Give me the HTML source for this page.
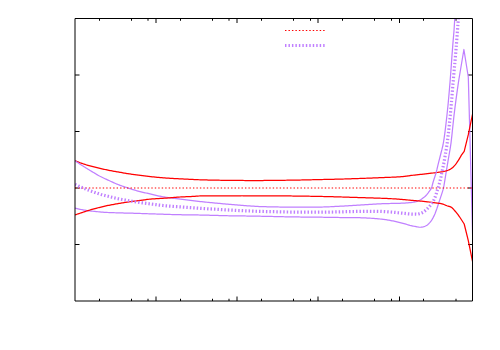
<!DOCTYPE html>
<html><head><meta charset="utf-8"><title>plot</title>
<style>html,body{margin:0;padding:0;background:#fff;font-family:"Liberation Sans",sans-serif}body{width:500px;height:350px;overflow:hidden;position:relative}</style></head>
<body>
<svg width="500" height="350" viewBox="0 0 500 350" style="position:absolute;left:0;top:0">
<rect width="500" height="350" fill="#fff"/>
<path d="M99.5,301.0V298.75M99.5,18.5V20.75M131.5,301.0V298.75M131.5,18.5V20.75M148.0,301.0V298.75M148.0,18.5V20.75M180.5,301.0V298.75M180.5,18.5V20.75M212.5,301.0V298.75M212.5,18.5V20.75M229.0,301.0V298.75M229.0,18.5V20.75M261.5,301.0V298.75M261.5,18.5V20.75M293.5,301.0V298.75M293.5,18.5V20.75M310.5,301.0V298.75M310.5,18.5V20.75M342.5,301.0V298.75M342.5,18.5V20.75M374.5,301.0V298.75M374.5,18.5V20.75M391.5,301.0V298.75M391.5,18.5V20.75M423.5,301.0V298.75M423.5,18.5V20.75M456.0,301.0V298.75M456.0,18.5V20.75M156.0,301.0V296.5M156.0,18.5V23.0M237.0,301.0V296.5M237.0,18.5V23.0M318.0,301.0V296.5M318.0,18.5V23.0M399.5,301.0V296.5M399.5,18.5V23.0M75.0,75.0H79.5M472.5,75.0H468.0M75.0,131.5H79.5M472.5,131.5H468.0M75.0,188.0H79.5M472.5,188.0H468.0M75.0,244.5H79.5M472.5,244.5H468.0" stroke="#000" stroke-width="1" fill="none"/>
<clipPath id="c"><rect x="75.0" y="18.5" width="397.5" height="282.5"/></clipPath>
<g clip-path="url(#c)" fill="none" stroke-linejoin="round">
<polyline points="75.00,208.00 76.00,208.28 77.00,208.55 78.00,208.81 79.00,209.06 80.00,209.29 81.00,209.51 82.00,209.71 83.00,209.89 84.00,210.06 85.00,210.22 86.00,210.37 87.00,210.51 88.00,210.65 89.00,210.77 90.00,210.90 91.00,211.02 92.00,211.14 93.00,211.25 94.00,211.35 95.00,211.45 96.00,211.55 97.00,211.65 98.00,211.75 99.00,211.85 100.00,211.94 101.00,212.04 102.00,212.13 103.00,212.22 104.00,212.29 105.00,212.35 106.00,212.40 107.00,212.45 108.00,212.50 109.00,212.54 110.00,212.58 111.00,212.62 112.00,212.65 113.00,212.68 114.00,212.72 115.00,212.75 116.00,212.78 117.00,212.81 118.00,212.84 119.00,212.87 120.00,212.90 121.00,212.93 122.00,212.96 123.00,212.99 124.00,213.01 125.00,213.04 126.00,213.06 127.00,213.09 128.00,213.11 129.00,213.14 130.00,213.16 131.00,213.19 132.00,213.22 133.00,213.24 134.00,213.27 135.00,213.30 136.00,213.33 137.00,213.36 138.00,213.40 139.00,213.43 140.00,213.46 141.00,213.50 142.00,213.53 143.00,213.57 144.00,213.61 145.00,213.64 146.00,213.68 147.00,213.71 148.00,213.75 149.00,213.78 150.00,213.81 151.00,213.85 152.00,213.88 153.00,213.91 154.00,213.94 155.00,213.97 156.00,214.00 157.00,214.04 158.00,214.07 159.00,214.10 160.00,214.13 161.00,214.16 162.00,214.19 163.00,214.23 164.00,214.26 165.00,214.29 166.00,214.33 167.00,214.36 168.00,214.40 169.00,214.43 170.00,214.46 171.00,214.50 172.00,214.53 173.00,214.56 174.00,214.58 175.00,214.61 176.00,214.63 177.00,214.65 178.00,214.68 179.00,214.70 180.00,214.72 181.00,214.74 182.00,214.76 183.00,214.78 184.00,214.80 185.00,214.81 186.00,214.83 187.00,214.85 188.00,214.86 189.00,214.87 190.00,214.89 191.00,214.90 192.00,214.91 193.00,214.92 194.00,214.93 195.00,214.94 196.00,214.96 197.00,214.97 198.00,214.98 199.00,215.00 200.00,215.02 201.00,215.04 202.00,215.06 203.00,215.08 204.00,215.11 205.00,215.13 206.00,215.16 207.00,215.19 208.00,215.22 209.00,215.24 210.00,215.27 211.00,215.30 212.00,215.33 213.00,215.36 214.00,215.38 215.00,215.41 216.00,215.43 217.00,215.46 218.00,215.49 219.00,215.52 220.00,215.55 221.00,215.57 222.00,215.60 223.00,215.63 224.00,215.66 225.00,215.68 226.00,215.71 227.00,215.73 228.00,215.75 229.00,215.77 230.00,215.79 231.00,215.81 232.00,215.83 233.00,215.84 234.00,215.85 235.00,215.87 236.00,215.88 237.00,215.89 238.00,215.90 239.00,215.91 240.00,215.92 241.00,215.93 242.00,215.95 243.00,215.96 244.00,215.97 245.00,215.98 246.00,216.00 247.00,216.01 248.00,216.03 249.00,216.04 250.00,216.06 251.00,216.07 252.00,216.09 253.00,216.11 254.00,216.12 255.00,216.14 256.00,216.16 257.00,216.18 258.00,216.20 259.00,216.21 260.00,216.23 261.00,216.25 262.00,216.27 263.00,216.29 264.00,216.31 265.00,216.33 266.00,216.35 267.00,216.37 268.00,216.39 269.00,216.41 270.00,216.44 271.00,216.46 272.00,216.48 273.00,216.50 274.00,216.53 275.00,216.55 276.00,216.57 277.00,216.60 278.00,216.62 279.00,216.64 280.00,216.66 281.00,216.69 282.00,216.71 283.00,216.73 284.00,216.75 285.00,216.77 286.00,216.79 287.00,216.81 288.00,216.83 289.00,216.85 290.00,216.86 291.00,216.88 292.00,216.89 293.00,216.91 294.00,216.92 295.00,216.94 296.00,216.95 297.00,216.96 298.00,216.97 299.00,216.99 300.00,217.00 301.00,217.01 302.00,217.02 303.00,217.03 304.00,217.04 305.00,217.05 306.00,217.06 307.00,217.07 308.00,217.08 309.00,217.09 310.00,217.10 311.00,217.11 312.00,217.12 313.00,217.13 314.00,217.14 315.00,217.15 316.00,217.17 317.00,217.18 318.00,217.19 319.00,217.20 320.00,217.21 321.00,217.22 322.00,217.24 323.00,217.25 324.00,217.26 325.00,217.28 326.00,217.30 327.00,217.31 328.00,217.33 329.00,217.35 330.00,217.37 331.00,217.39 332.00,217.40 333.00,217.42 334.00,217.44 335.00,217.45 336.00,217.47 337.00,217.48 338.00,217.49 339.00,217.50 340.00,217.51 341.00,217.52 342.00,217.52 343.00,217.53 344.00,217.53 345.00,217.54 346.00,217.54 347.00,217.55 348.00,217.55 349.00,217.56 350.00,217.56 351.00,217.57 352.00,217.58 353.00,217.59 354.00,217.60 355.00,217.61 356.00,217.62 357.00,217.64 358.00,217.67 359.00,217.70 360.00,217.73 361.00,217.77 362.00,217.80 363.00,217.85 364.00,217.89 365.00,217.94 366.00,217.98 367.00,218.03 368.00,218.08 369.00,218.14 370.00,218.19 371.00,218.25 372.00,218.31 373.00,218.38 374.00,218.45 375.00,218.54 376.00,218.62 377.00,218.71 378.00,218.81 379.00,218.90 380.00,219.00 381.00,219.10 382.00,219.22 383.00,219.34 384.00,219.47 385.00,219.60 386.00,219.74 387.00,219.90 388.00,220.06 389.00,220.22 390.00,220.40 391.00,220.58 392.00,220.78 393.00,220.98 394.00,221.18 395.00,221.40 396.00,221.62 397.00,221.86 398.00,222.10 399.00,222.35 400.00,222.60 401.00,222.85 402.00,223.11 403.00,223.37 404.00,223.63 405.00,223.90 406.00,224.19 407.00,224.49 408.00,224.79 409.00,225.08 410.00,225.35 411.00,225.59 412.00,225.82 413.00,226.04 414.00,226.25 415.00,226.45 416.00,226.63 417.00,226.81 418.00,227.00 419.00,227.16 420.00,227.25 421.00,227.22 422.00,227.10 423.00,226.95 424.00,226.67 425.00,226.27 426.00,225.77 427.00,225.19 428.00,224.42 429.00,223.45 430.00,222.35 431.00,221.10 432.00,219.58 433.00,217.84 434.00,215.90 435.00,213.66 436.00,211.05 437.00,208.26 438.00,205.21 439.00,202.10 440.00,199.13 441.00,196.15 442.00,193.08 443.00,189.93 444.00,185.44 445.00,179.38 446.00,173.05 447.00,167.06 448.00,161.22 449.00,155.27 450.00,149.62 451.00,143.08 452.00,134.40 453.00,124.77 454.00,115.51 455.00,107.42 456.00,99.70 457.00,92.32 458.00,85.31 458.80,80.00 463.90,49.50 468.30,77.00 472.60,235.00" stroke="#c080ff" stroke-width="1.25"/>
<polyline points="75.00,160.70 76.00,161.12 77.00,161.53 78.00,161.94 79.00,162.33 80.00,162.71 81.00,163.07 82.00,163.43 83.00,163.77 84.00,164.10 85.00,164.42 86.00,164.73 87.00,165.03 88.00,165.33 89.00,165.62 90.00,165.90 91.00,166.17 92.00,166.44 93.00,166.70 94.00,166.95 95.00,167.20 96.00,167.44 97.00,167.68 98.00,167.92 99.00,168.15 100.00,168.38 101.00,168.61 102.00,168.84 103.00,169.06 104.00,169.28 105.00,169.50 106.00,169.71 107.00,169.92 108.00,170.12 109.00,170.33 110.00,170.52 111.00,170.72 112.00,170.91 113.00,171.09 114.00,171.27 115.00,171.45 116.00,171.62 117.00,171.79 118.00,171.95 119.00,172.13 120.00,172.30 121.00,172.48 122.00,172.66 123.00,172.85 124.00,173.03 125.00,173.20 126.00,173.36 127.00,173.52 128.00,173.68 129.00,173.84 130.00,173.99 131.00,174.13 132.00,174.28 133.00,174.42 134.00,174.56 135.00,174.70 136.00,174.84 137.00,174.97 138.00,175.10 139.00,175.23 140.00,175.36 141.00,175.49 142.00,175.61 143.00,175.73 144.00,175.86 145.00,175.98 146.00,176.09 147.00,176.21 148.00,176.32 149.00,176.43 150.00,176.54 151.00,176.65 152.00,176.76 153.00,176.87 154.00,176.98 155.00,177.08 156.00,177.19 157.00,177.29 158.00,177.38 159.00,177.48 160.00,177.57 161.00,177.65 162.00,177.73 163.00,177.81 164.00,177.88 165.00,177.96 166.00,178.02 167.00,178.09 168.00,178.15 169.00,178.22 170.00,178.28 171.00,178.34 172.00,178.39 173.00,178.45 174.00,178.51 175.00,178.57 176.00,178.62 177.00,178.68 178.00,178.73 179.00,178.78 180.00,178.84 181.00,178.89 182.00,178.94 183.00,178.99 184.00,179.04 185.00,179.09 186.00,179.14 187.00,179.19 188.00,179.23 189.00,179.29 190.00,179.34 191.00,179.39 192.00,179.44 193.00,179.49 194.00,179.54 195.00,179.59 196.00,179.63 197.00,179.68 198.00,179.71 199.00,179.75 200.00,179.78 201.00,179.81 202.00,179.84 203.00,179.87 204.00,179.90 205.00,179.93 206.00,179.96 207.00,179.98 208.00,180.01 209.00,180.03 210.00,180.05 211.00,180.07 212.00,180.10 213.00,180.12 214.00,180.14 215.00,180.16 216.00,180.18 217.00,180.19 218.00,180.21 219.00,180.23 220.00,180.25 221.00,180.27 222.00,180.29 223.00,180.30 224.00,180.32 225.00,180.33 226.00,180.35 227.00,180.36 228.00,180.37 229.00,180.39 230.00,180.40 231.00,180.41 232.00,180.41 233.00,180.42 234.00,180.43 235.00,180.44 236.00,180.45 237.00,180.46 238.00,180.47 239.00,180.47 240.00,180.48 241.00,180.49 242.00,180.49 243.00,180.49 244.00,180.50 245.00,180.50 246.00,180.50 247.00,180.50 248.00,180.50 249.00,180.50 250.00,180.50 251.00,180.50 252.00,180.50 253.00,180.50 254.00,180.50 255.00,180.50 256.00,180.50 257.00,180.50 258.00,180.50 259.00,180.50 260.00,180.50 261.00,180.50 262.00,180.50 263.00,180.50 264.00,180.49 265.00,180.49 266.00,180.49 267.00,180.48 268.00,180.47 269.00,180.47 270.00,180.46 271.00,180.45 272.00,180.44 273.00,180.43 274.00,180.42 275.00,180.40 276.00,180.39 277.00,180.38 278.00,180.37 279.00,180.35 280.00,180.34 281.00,180.32 282.00,180.31 283.00,180.29 284.00,180.28 285.00,180.26 286.00,180.25 287.00,180.23 288.00,180.22 289.00,180.20 290.00,180.19 291.00,180.17 292.00,180.16 293.00,180.14 294.00,180.13 295.00,180.11 296.00,180.09 297.00,180.07 298.00,180.06 299.00,180.04 300.00,180.02 301.00,180.00 302.00,179.98 303.00,179.96 304.00,179.93 305.00,179.91 306.00,179.89 307.00,179.87 308.00,179.85 309.00,179.82 310.00,179.80 311.00,179.78 312.00,179.75 313.00,179.73 314.00,179.71 315.00,179.68 316.00,179.66 317.00,179.64 318.00,179.61 319.00,179.59 320.00,179.57 321.00,179.54 322.00,179.52 323.00,179.50 324.00,179.48 325.00,179.46 326.00,179.44 327.00,179.41 328.00,179.39 329.00,179.37 330.00,179.35 331.00,179.33 332.00,179.31 333.00,179.29 334.00,179.26 335.00,179.24 336.00,179.22 337.00,179.19 338.00,179.17 339.00,179.14 340.00,179.11 341.00,179.09 342.00,179.06 343.00,179.03 344.00,179.00 345.00,178.96 346.00,178.93 347.00,178.90 348.00,178.87 349.00,178.83 350.00,178.80 351.00,178.76 352.00,178.73 353.00,178.70 354.00,178.66 355.00,178.63 356.00,178.60 357.00,178.56 358.00,178.53 359.00,178.50 360.00,178.46 361.00,178.43 362.00,178.39 363.00,178.36 364.00,178.33 365.00,178.29 366.00,178.25 367.00,178.22 368.00,178.18 369.00,178.15 370.00,178.11 371.00,178.07 372.00,178.03 373.00,177.99 374.00,177.95 375.00,177.91 376.00,177.87 377.00,177.83 378.00,177.78 379.00,177.74 380.00,177.70 381.00,177.66 382.00,177.61 383.00,177.57 384.00,177.53 385.00,177.48 386.00,177.44 387.00,177.40 388.00,177.36 389.00,177.32 390.00,177.29 391.00,177.25 392.00,177.21 393.00,177.17 394.00,177.12 395.00,177.08 396.00,177.03 397.00,176.98 398.00,176.92 399.00,176.86 400.00,176.80 401.00,176.72 402.00,176.63 403.00,176.53 404.00,176.42 405.00,176.29 406.00,176.17 407.00,176.03 408.00,175.90 409.00,175.76 410.00,175.63 411.00,175.49 412.00,175.37 413.00,175.25 414.00,175.14 415.00,175.03 416.00,174.92 417.00,174.81 418.00,174.70 419.00,174.59 420.00,174.48 421.00,174.37 422.00,174.26 423.00,174.15 424.00,174.04 425.00,173.92 426.00,173.81 427.00,173.69 428.00,173.58 429.00,173.47 430.00,173.35 431.00,173.24 432.00,173.12 433.00,173.00 434.00,172.88 435.00,172.76 436.00,172.63 437.00,172.50 438.00,172.36 439.00,172.22 440.00,172.08 441.00,171.93 442.00,171.77 443.00,171.60 444.00,171.40 445.00,171.17 446.00,170.90 447.00,170.58 448.00,170.23 449.00,169.82 450.00,169.34 451.00,168.78 452.00,168.11 453.00,167.23 454.00,166.21 455.00,165.08 456.00,163.81 457.00,162.44 458.00,160.95 459.00,159.36 460.00,157.69 461.00,155.91 461.60,154.80 464.20,151.30 468.30,134.70 472.50,114.30" stroke="#ff0000" stroke-width="1.25"/>
<polyline points="75.00,160.70 76.00,161.43 77.00,162.15 78.00,162.85 79.00,163.53 80.00,164.20 81.00,164.84 82.00,165.46 83.00,166.07 84.00,166.68 85.00,167.30 86.00,167.93 87.00,168.57 88.00,169.20 89.00,169.83 90.00,170.45 91.00,171.05 92.00,171.65 93.00,172.23 94.00,172.82 95.00,173.40 96.00,173.99 97.00,174.59 98.00,175.18 99.00,175.76 100.00,176.30 101.00,176.81 102.00,177.30 103.00,177.77 104.00,178.23 105.00,178.70 106.00,179.17 107.00,179.63 108.00,180.08 109.00,180.54 110.00,181.00 111.00,181.47 112.00,181.94 113.00,182.40 114.00,182.86 115.00,183.30 116.00,183.72 117.00,184.14 118.00,184.54 119.00,184.93 120.00,185.30 121.00,185.66 122.00,186.00 123.00,186.33 124.00,186.66 125.00,187.00 126.00,187.34 127.00,187.69 128.00,188.04 129.00,188.37 130.00,188.70 131.00,189.01 132.00,189.32 133.00,189.62 134.00,189.91 135.00,190.20 136.00,190.49 137.00,190.78 138.00,191.06 139.00,191.34 140.00,191.60 141.00,191.85 142.00,192.09 143.00,192.32 144.00,192.55 145.00,192.78 146.00,193.00 147.00,193.22 148.00,193.44 149.00,193.67 150.00,193.90 151.00,194.14 152.00,194.38 153.00,194.63 154.00,194.88 155.00,195.13 156.00,195.36 157.00,195.59 158.00,195.81 159.00,196.02 160.00,196.23 161.00,196.43 162.00,196.62 163.00,196.81 164.00,196.98 165.00,197.15 166.00,197.31 167.00,197.45 168.00,197.60 169.00,197.74 170.00,197.87 171.00,198.00 172.00,198.13 173.00,198.25 174.00,198.37 175.00,198.49 176.00,198.61 177.00,198.73 178.00,198.85 179.00,198.98 180.00,199.10 181.00,199.22 182.00,199.35 183.00,199.47 184.00,199.59 185.00,199.71 186.00,199.83 187.00,199.94 188.00,200.06 189.00,200.18 190.00,200.30 191.00,200.42 192.00,200.54 193.00,200.66 194.00,200.78 195.00,200.90 196.00,201.03 197.00,201.15 198.00,201.28 199.00,201.40 200.00,201.51 201.00,201.62 202.00,201.73 203.00,201.84 204.00,201.95 205.00,202.05 206.00,202.15 207.00,202.25 208.00,202.35 209.00,202.45 210.00,202.55 211.00,202.65 212.00,202.74 213.00,202.84 214.00,202.93 215.00,203.03 216.00,203.12 217.00,203.22 218.00,203.31 219.00,203.40 220.00,203.49 221.00,203.58 222.00,203.67 223.00,203.76 224.00,203.85 225.00,203.93 226.00,204.02 227.00,204.11 228.00,204.19 229.00,204.28 230.00,204.37 231.00,204.45 232.00,204.54 233.00,204.62 234.00,204.71 235.00,204.80 236.00,204.88 237.00,204.97 238.00,205.06 239.00,205.14 240.00,205.22 241.00,205.31 242.00,205.39 243.00,205.46 244.00,205.54 245.00,205.61 246.00,205.69 247.00,205.76 248.00,205.83 249.00,205.90 250.00,205.97 251.00,206.04 252.00,206.11 253.00,206.18 254.00,206.24 255.00,206.31 256.00,206.37 257.00,206.42 258.00,206.48 259.00,206.52 260.00,206.56 261.00,206.60 262.00,206.63 263.00,206.66 264.00,206.69 265.00,206.72 266.00,206.74 267.00,206.76 268.00,206.79 269.00,206.81 270.00,206.83 271.00,206.85 272.00,206.86 273.00,206.88 274.00,206.90 275.00,206.92 276.00,206.94 277.00,206.96 278.00,206.98 279.00,207.00 280.00,207.02 281.00,207.04 282.00,207.06 283.00,207.08 284.00,207.10 285.00,207.12 286.00,207.14 287.00,207.15 288.00,207.17 289.00,207.18 290.00,207.19 291.00,207.20 292.00,207.20 293.00,207.20 294.00,207.20 295.00,207.20 296.00,207.20 297.00,207.20 298.00,207.20 299.00,207.20 300.00,207.20 301.00,207.20 302.00,207.20 303.00,207.20 304.00,207.20 305.00,207.20 306.00,207.20 307.00,207.20 308.00,207.20 309.00,207.20 310.00,207.20 311.00,207.19 312.00,207.18 313.00,207.17 314.00,207.16 315.00,207.15 316.00,207.13 317.00,207.12 318.00,207.10 319.00,207.08 320.00,207.06 321.00,207.04 322.00,207.02 323.00,207.00 324.00,206.98 325.00,206.95 326.00,206.92 327.00,206.88 328.00,206.84 329.00,206.80 330.00,206.75 331.00,206.70 332.00,206.65 333.00,206.60 334.00,206.55 335.00,206.49 336.00,206.44 337.00,206.39 338.00,206.34 339.00,206.28 340.00,206.23 341.00,206.18 342.00,206.13 343.00,206.07 344.00,206.02 345.00,205.96 346.00,205.90 347.00,205.84 348.00,205.78 349.00,205.72 350.00,205.67 351.00,205.60 352.00,205.54 353.00,205.48 354.00,205.42 355.00,205.36 356.00,205.30 357.00,205.24 358.00,205.18 359.00,205.11 360.00,205.05 361.00,204.98 362.00,204.92 363.00,204.85 364.00,204.79 365.00,204.72 366.00,204.66 367.00,204.59 368.00,204.53 369.00,204.47 370.00,204.41 371.00,204.35 372.00,204.29 373.00,204.23 374.00,204.17 375.00,204.10 376.00,204.04 377.00,203.98 378.00,203.92 379.00,203.86 380.00,203.81 381.00,203.76 382.00,203.71 383.00,203.67 384.00,203.63 385.00,203.60 386.00,203.57 387.00,203.55 388.00,203.53 389.00,203.51 390.00,203.50 391.00,203.48 392.00,203.47 393.00,203.45 394.00,203.43 395.00,203.41 396.00,203.39 397.00,203.37 398.00,203.34 399.00,203.30 400.00,203.27 401.00,203.22 402.00,203.18 403.00,203.13 404.00,203.07 405.00,203.01 406.00,202.94 407.00,202.87 408.00,202.79 409.00,202.71 410.00,202.62 411.00,202.52 412.00,202.38 413.00,202.23 414.00,202.04 415.00,201.83 416.00,201.60 417.00,201.33 418.00,200.97 419.00,200.54 420.00,200.05 421.00,199.49 422.00,198.81 423.00,198.08 424.00,197.32 425.00,196.48 426.00,195.48 427.00,194.30 428.00,193.05 429.00,191.74 430.00,190.34 431.00,188.91 432.00,186.47 433.00,182.50 434.00,179.31 435.00,176.20 436.00,172.97 437.00,169.14 438.00,164.88 439.00,160.96 440.00,157.00 441.00,152.98 442.00,149.18 443.00,145.00 444.00,139.07 445.00,131.82 446.00,123.61 447.00,114.80 448.00,105.25 449.00,94.31 450.00,82.44 451.00,69.45 452.00,55.33 453.00,42.35 454.00,30.76 455.00,14.82 455.20,10.00" stroke="#c080ff" stroke-width="1.25"/>
<polyline points="75.00,214.90 76.00,214.56 77.00,214.22 78.00,213.89 79.00,213.55 80.00,213.22 81.00,212.89 82.00,212.56 83.00,212.24 84.00,211.91 85.00,211.58 86.00,211.25 87.00,210.93 88.00,210.61 89.00,210.30 90.00,210.00 91.00,209.70 92.00,209.41 93.00,209.12 94.00,208.84 95.00,208.57 96.00,208.29 97.00,208.03 98.00,207.77 99.00,207.52 100.00,207.27 101.00,207.02 102.00,206.78 103.00,206.55 104.00,206.32 105.00,206.10 106.00,205.88 107.00,205.67 108.00,205.47 109.00,205.27 110.00,205.07 111.00,204.88 112.00,204.69 113.00,204.51 114.00,204.33 115.00,204.15 116.00,203.97 117.00,203.80 118.00,203.63 119.00,203.47 120.00,203.30 121.00,203.13 122.00,202.97 123.00,202.80 124.00,202.64 125.00,202.48 126.00,202.32 127.00,202.17 128.00,202.03 129.00,201.89 130.00,201.75 131.00,201.62 132.00,201.49 133.00,201.36 134.00,201.23 135.00,201.10 136.00,200.97 137.00,200.83 138.00,200.70 139.00,200.56 140.00,200.43 141.00,200.30 142.00,200.17 143.00,200.03 144.00,199.90 145.00,199.76 146.00,199.62 147.00,199.49 148.00,199.37 149.00,199.25 150.00,199.15 151.00,199.06 152.00,198.98 153.00,198.90 154.00,198.83 155.00,198.76 156.00,198.70 157.00,198.63 158.00,198.57 159.00,198.51 160.00,198.45 161.00,198.39 162.00,198.33 163.00,198.27 164.00,198.21 165.00,198.15 166.00,198.08 167.00,198.01 168.00,197.93 169.00,197.85 170.00,197.77 171.00,197.69 172.00,197.60 173.00,197.52 174.00,197.43 175.00,197.35 176.00,197.27 177.00,197.20 178.00,197.13 179.00,197.06 180.00,197.00 181.00,196.94 182.00,196.89 183.00,196.84 184.00,196.80 185.00,196.76 186.00,196.72 187.00,196.67 188.00,196.63 189.00,196.59 190.00,196.55 191.00,196.51 192.00,196.46 193.00,196.41 194.00,196.36 195.00,196.30 196.00,196.22 197.00,196.12 198.00,196.04 199.00,196.00 200.00,195.99 201.00,195.99 202.00,195.98 203.00,195.98 204.00,195.98 205.00,195.97 206.00,195.97 207.00,195.97 208.00,195.97 209.00,195.97 210.00,195.96 211.00,195.96 212.00,195.96 213.00,195.96 214.00,195.95 215.00,195.95 216.00,195.94 217.00,195.93 218.00,195.93 219.00,195.92 220.00,195.90 221.00,195.89 222.00,195.88 223.00,195.87 224.00,195.86 225.00,195.85 226.00,195.84 227.00,195.83 228.00,195.82 229.00,195.81 230.00,195.80 231.00,195.80 232.00,195.79 233.00,195.79 234.00,195.78 235.00,195.78 236.00,195.77 237.00,195.77 238.00,195.77 239.00,195.76 240.00,195.76 241.00,195.76 242.00,195.75 243.00,195.75 244.00,195.75 245.00,195.75 246.00,195.75 247.00,195.75 248.00,195.75 249.00,195.75 250.00,195.75 251.00,195.75 252.00,195.75 253.00,195.75 254.00,195.75 255.00,195.75 256.00,195.75 257.00,195.75 258.00,195.75 259.00,195.75 260.00,195.75 261.00,195.75 262.00,195.75 263.00,195.75 264.00,195.75 265.00,195.76 266.00,195.76 267.00,195.76 268.00,195.77 269.00,195.77 270.00,195.78 271.00,195.79 272.00,195.79 273.00,195.80 274.00,195.81 275.00,195.82 276.00,195.83 277.00,195.84 278.00,195.85 279.00,195.86 280.00,195.87 281.00,195.88 282.00,195.89 283.00,195.90 284.00,195.91 285.00,195.92 286.00,195.93 287.00,195.94 288.00,195.95 289.00,195.96 290.00,195.97 291.00,195.98 292.00,196.00 293.00,196.01 294.00,196.02 295.00,196.03 296.00,196.04 297.00,196.05 298.00,196.07 299.00,196.08 300.00,196.09 301.00,196.11 302.00,196.12 303.00,196.14 304.00,196.15 305.00,196.17 306.00,196.19 307.00,196.20 308.00,196.22 309.00,196.24 310.00,196.25 311.00,196.27 312.00,196.29 313.00,196.31 314.00,196.32 315.00,196.34 316.00,196.36 317.00,196.38 318.00,196.40 319.00,196.42 320.00,196.44 321.00,196.46 322.00,196.48 323.00,196.50 324.00,196.52 325.00,196.54 326.00,196.57 327.00,196.59 328.00,196.61 329.00,196.64 330.00,196.66 331.00,196.69 332.00,196.71 333.00,196.74 334.00,196.77 335.00,196.80 336.00,196.82 337.00,196.85 338.00,196.88 339.00,196.91 340.00,196.94 341.00,196.97 342.00,197.00 343.00,197.03 344.00,197.06 345.00,197.09 346.00,197.13 347.00,197.16 348.00,197.19 349.00,197.22 350.00,197.26 351.00,197.29 352.00,197.32 353.00,197.36 354.00,197.39 355.00,197.42 356.00,197.45 357.00,197.48 358.00,197.51 359.00,197.54 360.00,197.58 361.00,197.61 362.00,197.64 363.00,197.67 364.00,197.70 365.00,197.73 366.00,197.76 367.00,197.80 368.00,197.83 369.00,197.86 370.00,197.89 371.00,197.93 372.00,197.96 373.00,197.99 374.00,198.02 375.00,198.05 376.00,198.08 377.00,198.11 378.00,198.15 379.00,198.18 380.00,198.21 381.00,198.25 382.00,198.28 383.00,198.32 384.00,198.36 385.00,198.40 386.00,198.44 387.00,198.49 388.00,198.54 389.00,198.59 390.00,198.64 391.00,198.69 392.00,198.75 393.00,198.81 394.00,198.87 395.00,198.93 396.00,198.99 397.00,199.06 398.00,199.13 399.00,199.20 400.00,199.28 401.00,199.36 402.00,199.45 403.00,199.54 404.00,199.63 405.00,199.72 406.00,199.81 407.00,199.91 408.00,200.00 409.00,200.09 410.00,200.18 411.00,200.27 412.00,200.36 413.00,200.44 414.00,200.52 415.00,200.61 416.00,200.69 417.00,200.78 418.00,200.86 419.00,200.95 420.00,201.04 421.00,201.13 422.00,201.23 423.00,201.33 424.00,201.43 425.00,201.54 426.00,201.65 427.00,201.77 428.00,201.88 429.00,202.00 430.00,202.12 431.00,202.25 432.00,202.37 433.00,202.50 434.00,202.63 435.00,202.76 436.00,202.89 437.00,203.01 438.00,203.13 439.00,203.26 440.00,203.41 441.00,203.58 442.00,203.80 443.00,204.11 444.00,204.51 445.00,204.95 446.00,205.37 447.00,205.74 448.00,206.04 449.00,206.34 450.00,206.67 451.00,207.10 452.00,207.75 453.00,208.71 454.00,209.84 455.00,211.00 456.00,212.16 457.00,213.39 458.00,214.69 459.00,216.06 460.00,217.50 464.20,224.00 468.30,240.60 472.50,261.30" stroke="#ff0000" stroke-width="1.25"/>
<path d="M75.0,188H472.5" stroke="#ff0000" stroke-width="1.05" stroke-dasharray="1.4 2.069"/>
<polyline points="75.00,184.35 76.00,184.86 77.00,185.35 78.00,185.83 79.00,186.30 80.00,186.75 81.00,187.18 82.00,187.59 83.00,187.98 84.00,188.37 85.00,188.76 86.00,189.15 87.00,189.54 88.00,189.92 89.00,190.30 90.00,190.68 91.00,191.04 92.00,191.39 93.00,191.74 94.00,192.08 95.00,192.43 96.00,192.77 97.00,193.12 98.00,193.47 99.00,193.80 100.00,194.12 101.00,194.43 102.00,194.71 103.00,194.99 104.00,195.26 105.00,195.52 106.00,195.78 107.00,196.04 108.00,196.29 109.00,196.54 110.00,196.79 111.00,197.04 112.00,197.29 113.00,197.54 114.00,197.79 115.00,198.02 116.00,198.25 117.00,198.47 118.00,198.69 119.00,198.90 120.00,199.10 121.00,199.29 122.00,199.48 123.00,199.66 124.00,199.84 125.00,200.02 126.00,200.20 127.00,200.39 128.00,200.57 129.00,200.76 130.00,200.93 131.00,201.10 132.00,201.27 133.00,201.43 134.00,201.59 135.00,201.75 136.00,201.91 137.00,202.07 138.00,202.23 139.00,202.38 140.00,202.53 141.00,202.67 142.00,202.81 143.00,202.95 144.00,203.08 145.00,203.21 146.00,203.34 147.00,203.47 148.00,203.59 149.00,203.72 150.00,203.86 151.00,203.99 152.00,204.13 153.00,204.27 154.00,204.41 155.00,204.55 156.00,204.68 157.00,204.81 158.00,204.94 159.00,205.06 160.00,205.18 161.00,205.29 162.00,205.41 163.00,205.52 164.00,205.62 165.00,205.72 166.00,205.82 167.00,205.91 168.00,206.00 169.00,206.08 170.00,206.17 171.00,206.25 172.00,206.33 173.00,206.40 174.00,206.48 175.00,206.55 176.00,206.62 177.00,206.69 178.00,206.77 179.00,206.84 180.00,206.91 181.00,206.98 182.00,207.05 183.00,207.12 184.00,207.19 185.00,207.26 186.00,207.33 187.00,207.39 188.00,207.46 189.00,207.53 190.00,207.59 191.00,207.66 192.00,207.72 193.00,207.79 194.00,207.86 195.00,207.92 196.00,207.99 197.00,208.06 198.00,208.13 199.00,208.20 200.00,208.27 201.00,208.33 202.00,208.40 203.00,208.46 204.00,208.53 205.00,208.59 206.00,208.66 207.00,208.72 208.00,208.78 209.00,208.85 210.00,208.91 211.00,208.97 212.00,209.04 213.00,209.10 214.00,209.16 215.00,209.22 216.00,209.28 217.00,209.34 218.00,209.40 219.00,209.46 220.00,209.52 221.00,209.58 222.00,209.64 223.00,209.69 224.00,209.75 225.00,209.81 226.00,209.86 227.00,209.92 228.00,209.97 229.00,210.03 230.00,210.08 231.00,210.13 232.00,210.18 233.00,210.23 234.00,210.28 235.00,210.33 236.00,210.38 237.00,210.43 238.00,210.48 239.00,210.53 240.00,210.57 241.00,210.62 242.00,210.67 243.00,210.71 244.00,210.76 245.00,210.80 246.00,210.84 247.00,210.88 248.00,210.93 249.00,210.97 250.00,211.01 251.00,211.06 252.00,211.10 253.00,211.14 254.00,211.18 255.00,211.22 256.00,211.26 257.00,211.30 258.00,211.34 259.00,211.37 260.00,211.40 261.00,211.43 262.00,211.45 263.00,211.47 264.00,211.50 265.00,211.52 266.00,211.54 267.00,211.57 268.00,211.59 269.00,211.61 270.00,211.63 271.00,211.65 272.00,211.67 273.00,211.69 274.00,211.71 275.00,211.73 276.00,211.76 277.00,211.78 278.00,211.80 279.00,211.82 280.00,211.84 281.00,211.86 282.00,211.88 283.00,211.90 284.00,211.92 285.00,211.94 286.00,211.96 287.00,211.98 288.00,212.00 289.00,212.01 290.00,212.03 291.00,212.04 292.00,212.05 293.00,212.05 294.00,212.06 295.00,212.07 296.00,212.07 297.00,212.08 298.00,212.09 299.00,212.09 300.00,212.10 301.00,212.10 302.00,212.11 303.00,212.12 304.00,212.12 305.00,212.13 306.00,212.13 307.00,212.14 308.00,212.14 309.00,212.15 310.00,212.15 311.00,212.15 312.00,212.15 313.00,212.15 314.00,212.15 315.00,212.15 316.00,212.15 317.00,212.15 318.00,212.14 319.00,212.14 320.00,212.14 321.00,212.13 322.00,212.13 323.00,212.12 324.00,212.12 325.00,212.11 326.00,212.11 327.00,212.10 328.00,212.09 329.00,212.07 330.00,212.06 331.00,212.04 332.00,212.03 333.00,212.01 334.00,211.99 335.00,211.97 336.00,211.95 337.00,211.93 338.00,211.91 339.00,211.89 340.00,211.87 341.00,211.85 342.00,211.83 343.00,211.80 344.00,211.78 345.00,211.75 346.00,211.72 347.00,211.70 348.00,211.67 349.00,211.64 350.00,211.61 351.00,211.59 352.00,211.56 353.00,211.54 354.00,211.51 355.00,211.49 356.00,211.46 357.00,211.44 358.00,211.42 359.00,211.40 360.00,211.39 361.00,211.37 362.00,211.36 363.00,211.35 364.00,211.34 365.00,211.33 366.00,211.32 367.00,211.31 368.00,211.31 369.00,211.30 370.00,211.30 371.00,211.30 372.00,211.30 373.00,211.30 374.00,211.31 375.00,211.32 376.00,211.33 377.00,211.35 378.00,211.36 379.00,211.38 380.00,211.40 381.00,211.43 382.00,211.46 383.00,211.50 384.00,211.55 385.00,211.60 386.00,211.66 387.00,211.72 388.00,211.79 389.00,211.87 390.00,211.95 391.00,212.03 392.00,212.12 393.00,212.21 394.00,212.31 395.00,212.41 396.00,212.51 397.00,212.61 398.00,212.72 399.00,212.83 400.00,212.93 401.00,213.04 402.00,213.14 403.00,213.25 404.00,213.35 405.00,213.45 406.00,213.56 407.00,213.68 408.00,213.79 409.00,213.90 410.00,213.98 411.00,214.05 412.00,214.10 413.00,214.14 414.00,214.15 415.00,214.14 416.00,214.12 417.00,214.18 418.00,214.06 419.00,213.83 420.00,213.52 421.00,213.17 422.00,212.78 423.00,212.24 424.00,211.58 425.00,210.84 426.00,210.00 427.00,209.05 428.00,208.01 429.00,206.90 430.00,205.72 431.00,204.45 432.00,203.04 433.00,201.47 434.00,199.68 435.00,197.53 436.00,194.65 437.00,191.13 438.00,188.30 439.00,185.02 440.00,181.23 441.00,176.74 442.00,171.68 443.00,167.13 444.00,162.40 445.00,156.53 446.00,150.72 447.00,144.61 448.00,136.81 449.00,127.84 450.00,118.07 451.00,107.62 452.00,95.73 453.00,83.52 454.00,72.16 455.00,61.22 456.00,49.72 457.00,36.98 458.00,23.26 458.90,10.00" stroke="#c080ff" stroke-width="3.2" stroke-dasharray="1.45 2.0158"/>
</g>
<path d="M75.0,18.5V301.0H472.5V18.5Z" stroke="#000" stroke-width="1" fill="none"/>
<path d="M285,30.5H325.5" stroke="#ff0000" stroke-width="1.2" stroke-dasharray="1.45 2.019" fill="none"/>
<path d="M285,45.5H325.5" stroke="#c080ff" stroke-width="3.2" stroke-dasharray="1.45 2.019" fill="none"/>
</svg>
</body></html>
